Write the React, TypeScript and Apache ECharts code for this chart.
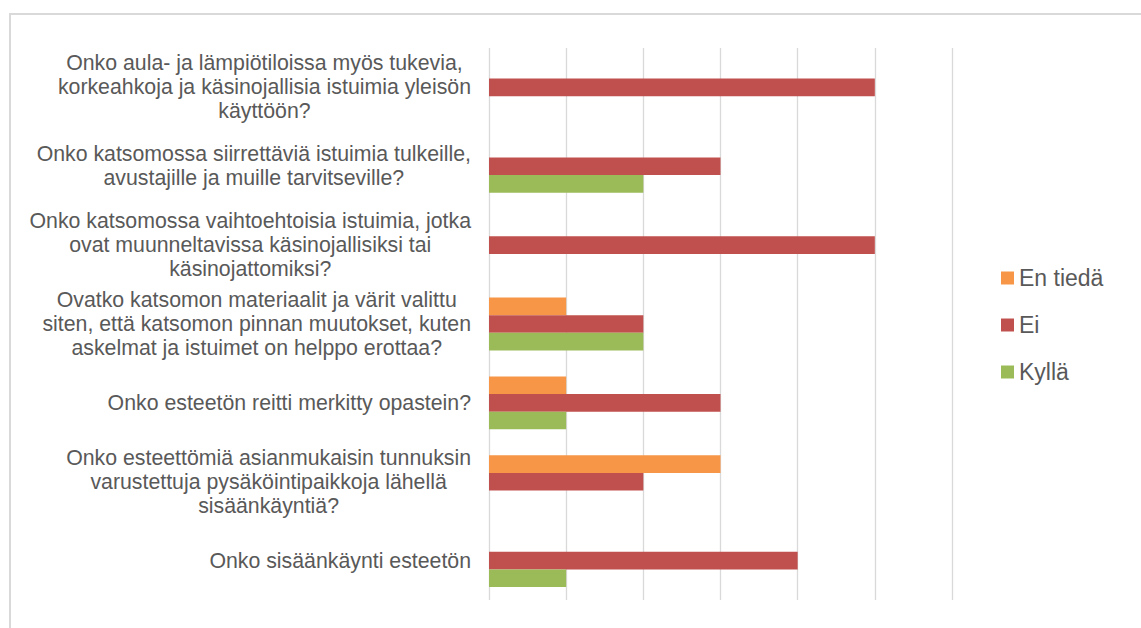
import React, { useEffect, useRef } from "react";
import * as echarts from "echarts";

const categories: string[] = [
  "Onko aula- ja lämpiötiloissa myös tukevia,\nkorkeahkoja ja käsinojallisia istuimia yleisön\nkäyttöön?",
  "Onko katsomossa siirrettäviä istuimia tulkeille,\navustajille ja muille tarvitseville?",
  "Onko katsomossa vaihtoehtoisia istuimia, jotka\novat muunneltavissa käsinojallisiksi tai\nkäsinojattomiksi?",
  "Ovatko katsomon materiaalit ja värit valittu\nsiten, että katsomon pinnan muutokset, kuten\naskelmat ja istuimet on helppo erottaa?",
  "Onko esteetön reitti merkitty opastein?",
  "Onko esteettömiä asianmukaisin tunnuksin\nvarustettuja pysäköintipaikkoja lähellä\nsisäänkäyntiä?",
  "Onko sisäänkäynti esteetön",
];

const enTieda: number[] = [0, 0, 0, 1, 1, 3, 0];
const ei: number[] = [5, 3, 5, 2, 3, 2, 4];
const kylla: number[] = [0, 2, 0, 2, 1, 0, 1];

const seriesNames = ["En tiedä", "Ei", "Kyllä"];
const seriesColors = ["#F79646", "#C0504D", "#9BBB59"];

const FONT = "'Liberation Sans', Arial, sans-serif";
const TEXT_COLOR = "#595959";

export default function App() {
  const ref = useRef<HTMLDivElement>(null);

  useEffect(() => {
    if (!ref.current) return;
    const chart = echarts.init(ref.current, null, { renderer: "svg" });
    const seriesData = [enTieda, ei, kylla];
    chart.setOption({
      animation: false,
      backgroundColor: "#ffffff",
      textStyle: { fontFamily: FONT },
      graphic: [
        {
          type: "rect",
          shape: { x: 10, y: 14, width: 1300, height: 800 },
          style: { fill: "none", stroke: "#D9D9D9", lineWidth: 2 },
          silent: true,
          z: -1,
        },
      ],
      legend: {
        orient: "vertical",
        left: 1001,
        top: 266,
        padding: 0,
        itemWidth: 13,
        itemHeight: 13,
        itemGap: 23,
        icon: "rect",
        data: seriesNames,
        textStyle: {
          fontFamily: FONT,
          fontSize: 23,
          lineHeight: 24,
          color: TEXT_COLOR,
        },
      },
      grid: { left: 489, right: 189, top: 48, bottom: 28, containLabel: false },
      xAxis: {
        type: "value",
        min: 0,
        max: 6,
        interval: 1,
        axisLabel: { show: false },
        axisLine: { show: false },
        axisTick: { show: false },
        splitLine: { show: true, lineStyle: { color: "#D9D9D9", width: 1.3 } },
      },
      yAxis: {
        type: "category",
        inverse: true,
        data: categories,
        axisLine: { show: false },
        axisTick: { show: false },
        splitLine: { show: false },
        axisLabel: {
          margin: 18,
          align: "right",
          formatter: (v: string) =>
            v
              .split("\n")
              .map((l) => `{c|${l}}`)
              .join("\n"),
          rich: {
            c: {
              align: "center",
              fontFamily: FONT,
              fontSize: 21.3,
              lineHeight: 24,
              color: TEXT_COLOR,
            },
          },
        },
      },
      series: seriesNames.map((name, i) => ({
        name,
        type: "bar",
        data: seriesData[i],
        barGap: "0%",
        barCategoryGap: "33%",
        itemStyle: { color: seriesColors[i] },
      })),
    });
    return () => chart.dispose();
  }, []);

  return (
    <div
      ref={ref}
      style={{ position: "fixed", left: 0, top: 0, width: 1141, height: 628 }}
    />
  );
}
